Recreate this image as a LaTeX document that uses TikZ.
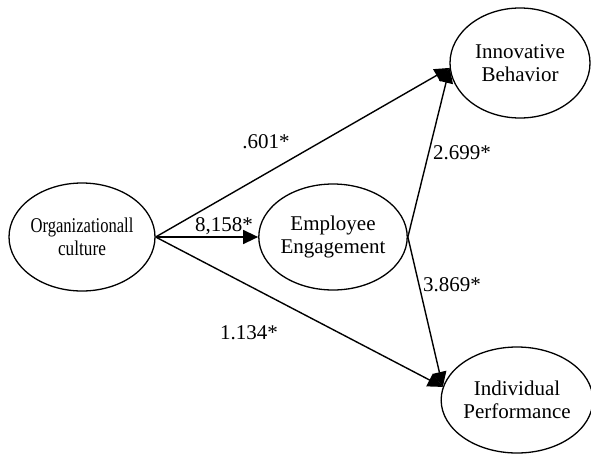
\documentclass[tikz,border=0pt]{standalone}
\usepackage{fontspec}
\usepackage{graphicx}
\setmainfont{Liberation Serif}
\usetikzlibrary{shapes.geometric,arrows.meta}
\begin{document}
\begin{tikzpicture}[x=1pt,y=-1pt,
  latent/.style={draw,ellipse,line width=1.3pt,inner sep=0pt,align=center,
    font=\fontsize{21}{23}\selectfont},
  path/.style={line width=1.4pt,-{Triangle[length=15pt,width=14pt]}},
  coef/.style={inner sep=0pt,font=\fontsize{21}{23}\selectfont}]
\useasboundingbox (0,0) rectangle (591,453);
\node[latent,minimum width=146pt,minimum height=108pt] (org) at (82,237)
  {\scalebox{0.79}[1]{Organizationall}\\\scalebox{0.82}[1]{culture}};
\node[latent,minimum width=142pt,minimum height=106pt] (emp) at (333,237)
  {Employee\\Engagement};
\node[latent,minimum width=140pt,minimum height=110pt] (ib) at (520,63)
  {Innovative\\Behavior};
\node[latent,minimum width=150pt,minimum height=106pt] (ip) at (517,400)
  {Individual\\Performance};
\draw[path] (org.east) -- (ib.184);
\draw[path] (org.east) -- (emp.west);
\draw[path] (org.east) -- (ip.170);
\draw[path] (emp.east) -- (ib.184);
\draw[path] (emp.east) -- (ip.170);
\node[coef] (c1) at (266,142) {.601*};
\node[coef] (c2) at (224,226) {8,158*};
\node[coef] (c3) at (462,153) {2.699*};
\node[coef] (c4) at (452,285) {3.869*};
\node[coef] (c5) at (249,333) {1.134*};
\end{tikzpicture}
\end{document}
